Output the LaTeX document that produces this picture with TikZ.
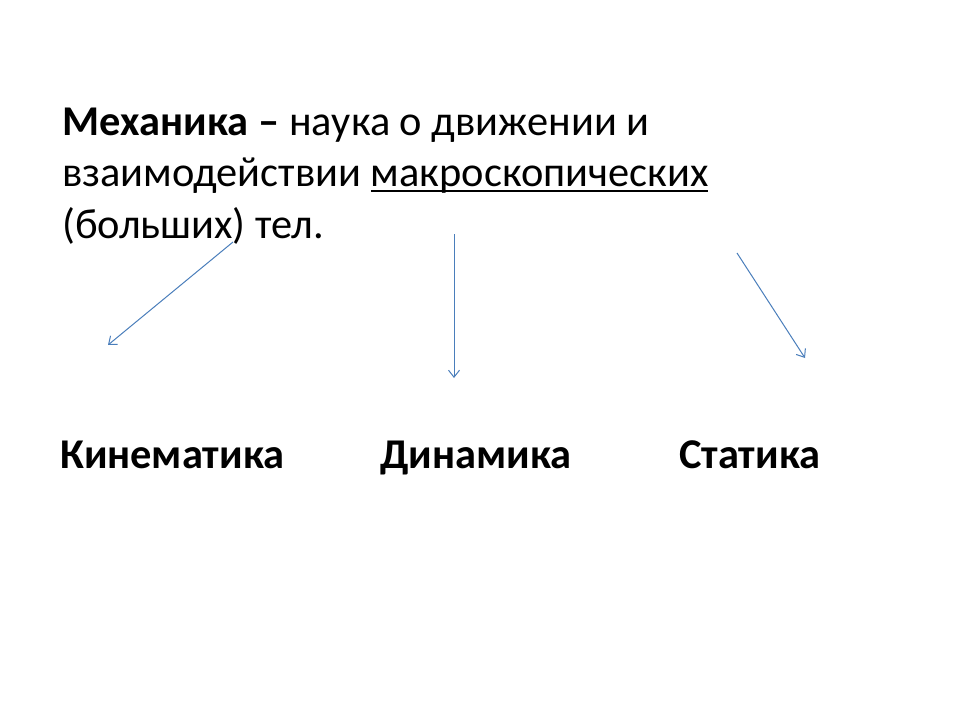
\documentclass[tikz,border=0pt]{standalone}
\usepackage{fontspec}
\setmainfont{Carlito}
\usetikzlibrary{arrows.meta,positioning}
\definecolor{arrowblue}{HTML}{4A7EBB}
\newcommand{\ulword}[1]{\setbox0\hbox{#1}\rlap{\rule[-5.5pt]{\wd0}{2.4pt}}\box0}
\tikzset{
	branch/.style={draw=arrowblue, line width=1pt, -{Straight Barb[length=7pt,width=11pt]}},
	part/.style={anchor=base west, inner sep=0pt, font=\fontsize{42.4}{51}\selectfont\bfseries}
}
\begin{document}
\begin{tikzpicture}[x=1pt,y=-1pt]
	\useasboundingbox (0,0) rectangle (960,720);
	\node[anchor=base west, inner sep=0pt, align=left,
		font=\fontsize{42.4}{51.5}\selectfont] (def) at (62,238)
		{\textbf{Механика –} наука о движении и\\
		 взаимодействии \ulword{макроскопических}\\
		 (больших) тел.};
	\node[part] (kin) at (60,468) {Кинематика};
	\node[part] (dyn) at (380,468) {Динамика};
	\node[part] (stat) at (679,468) {Статика};
	\coordinate (from1) at (233,242);
	\coordinate (to1) at (108,345);
	\coordinate (from2) at (454,234);
	\coordinate (to2) at (454,378);
	\coordinate (from3) at (737,253);
	\coordinate (to3) at (805,358);
	\foreach \idx in {1,2,3} {
		\draw[branch] (from\idx) -- (to\idx);
	}
\end{tikzpicture}
\end{document}
